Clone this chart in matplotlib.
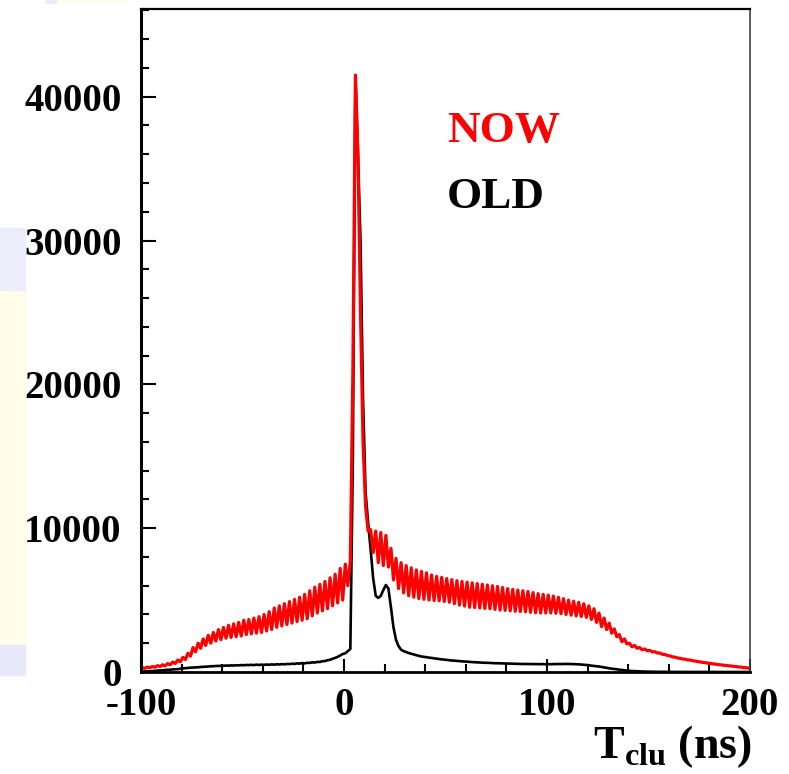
import matplotlib.pyplot as plt
import matplotlib.patches as mpatches
import numpy as np

plt.rcParams['font.family'] = 'Liberation Serif'
plt.rcParams['font.weight'] = 'bold'
plt.rcParams['axes.unicode_minus'] = False
plt.rcParams['mathtext.fontset'] = 'custom'
plt.rcParams['mathtext.rm'] = 'Liberation Serif:bold'
plt.rcParams['mathtext.bf'] = 'Liberation Serif:bold'

# histogram range and bin width (ns)
t_min, t_max, bin_w = -100, 200, 1.25

# NOW (red) bin contents, 8 bins = 10 ns per line
now_counts = [
    300, 260, 340, 300, 380, 330, 440, 380,          # -100
    500, 430, 580, 500, 690, 590, 830, 710,          # -90
    1020, 870, 1300, 1100, 1700, 1400, 2000, 1650,   # -80
    2300, 1850, 2550, 2000, 2750, 2150, 2950, 2250,  # -70
    3100, 2350, 3250, 2400, 3350, 2450, 3450, 2500,  # -60
    3600, 2600, 3650, 2650, 3750, 2700, 3850, 2750,  # -50
    4000, 2850, 4200, 2950, 4450, 3100, 4600, 3200,  # -40
    4750, 3300, 4900, 3400, 5050, 3500, 5200, 3600,  # -30
    5400, 3700, 5650, 3900, 5900, 4100, 6100, 4250,  # -20
    6300, 4400, 6550, 4600, 6800, 4800, 7200, 5000,  # -10
    7500, 6000, 7700, 21000, 41500, 36000, 25000, 16000,  # 0
    11500, 9800, 9900, 8300, 9800, 7600, 9700, 7400,  # 10
    9500, 7300, 8600, 6400, 7900, 5800, 7600, 5500,  # 20
    7400, 5300, 7250, 5200, 7100, 5100, 7000, 5050,  # 30
    6900, 5000, 6750, 4970, 6650, 4950, 6580, 4900,  # 40
    6500, 4850, 6420, 4750, 6350, 4650, 6300, 4580,  # 50
    6250, 4500, 6200, 4480, 6150, 4450, 6100, 4420,  # 60
    6050, 4400, 6000, 4350, 5950, 4300, 5880, 4280,  # 70
    5800, 4250, 5750, 4220, 5700, 4200, 5650, 4180,  # 80
    5600, 4150, 5520, 4120, 5450, 4100, 5400, 4100,  # 90
    5350, 4100, 5280, 4080, 5200, 4050, 5100, 4000,  # 100
    5000, 3950, 4920, 3900, 4850, 3850, 4750, 3800,  # 110
    4600, 3650, 4400, 3450, 4100, 3150, 3750, 2950,  # 120
    3400, 2700, 3000, 2450, 2600, 2100, 2300, 1950,  # 130
    2000, 1750, 1850, 1650, 1700, 1550, 1600, 1480,  # 140
    1500, 1400, 1410, 1320, 1320, 1230, 1220, 1140,  # 150
    1120, 1050, 1030, 970, 950, 900, 890, 840,       # 160
    830, 780, 760, 720, 700, 660, 650, 610,          # 170
    600, 560, 550, 510, 500, 470, 460, 430,          # 180
    420, 390, 380, 350, 340, 310, 300, 270,          # 190
]

# OLD (black) bin contents
old_counts = [
    30, 40, 50, 60, 70, 80, 100, 110,                # -100
    120, 140, 150, 160, 180, 190, 200, 230,          # -90
    250, 270, 280, 300, 310, 320, 330, 350,          # -80
    360, 370, 380, 400, 400, 420, 420, 430,          # -70
    430, 450, 440, 460, 450, 470, 460, 480,          # -60
    470, 490, 480, 500, 480, 510, 490, 510,          # -50
    500, 520, 500, 530, 510, 540, 520, 550,          # -40
    530, 560, 550, 580, 560, 600, 580, 620,          # -30
    600, 640, 630, 670, 660, 700, 700, 750,          # -20
    760, 820, 850, 920, 980, 1050, 1150, 1250,       # -10
    1300, 1450, 1600, 15000, 41500, 36000, 30000, 19000,  # 0
    12500, 10400, 8500, 6500, 5300, 5150, 5300, 5700,  # 10
    6050, 5800, 4500, 3100, 2230, 1800, 1550, 1450,  # 20
    1380, 1320, 1270, 1220, 1170, 1120, 1080, 1050,  # 30
    1030, 1000, 980, 950, 930, 900, 880, 860,        # 40
    840, 820, 800, 790, 770, 760, 740, 730,          # 50
    720, 700, 690, 680, 670, 660, 650, 640,          # 60
    640, 630, 620, 610, 610, 600, 600, 590,          # 70
    590, 580, 580, 570, 570, 560, 560, 550,          # 80
    560, 550, 550, 550, 550, 540, 550, 540,          # 90
    550, 540, 550, 550, 560, 550, 560, 560,          # 100
    560, 550, 550, 540, 530, 520, 500, 490,          # 110
    470, 440, 420, 400, 380, 350, 320, 290,          # 120
    260, 230, 210, 190, 160, 140, 120, 100,          # 130
    80, 70, 60, 50, 40, 35, 30, 25,                  # 140
    20, 20, 15, 15, 10, 10, 10, 10,                  # 150
    5, 5, 5, 5, 5, 5, 5, 5,                          # 160
    0, 0, 0, 0, 0, 0, 0, 0,                          # 170
    0, 0, 0, 0, 0, 0, 0, 0,                          # 180
    0, 0, 0, 0, 0, 0, 0, 0,                          # 190
]

centers = np.arange(t_min + bin_w / 2, t_max, bin_w)

fig = plt.figure(figsize=(7.89, 7.74), dpi=100)

# faint slide background pieces on the left edge
for (x0, y0, w, h, c) in [(0, 290, 25, 355, '#fffdea'), (0, 645, 25, 30, '#e8e8fb'),
                          (0, 228, 25, 62, '#ececfb'), (45, 0, 12, 3, '#ececfb'),
                          (57, 0, 70, 3, '#fffef0')]:
    fig.patches.append(mpatches.Rectangle((x0 / 789, 1 - (y0 + h) / 774), w / 789, h / 774,
                                          transform=fig.transFigure, color=c, zorder=0))

ax = fig.add_axes([141 / 789, 1 - 672 / 774, (750 - 141) / 789, (672 - 9) / 774])

ax.plot(centers, old_counts, color='black', linewidth=1.9)
ax.plot(centers, now_counts, color='#ff0000', linewidth=2.3)

ax.set_xlim(t_min, t_max)
ax.set_ylim(0, 46100)
ax.set_xticks([-100, 0, 100, 200])
ax.set_xticks(np.arange(-100, 201, 20), minor=True)
ax.set_yticks([0, 10000, 20000, 30000, 40000])
ax.set_yticks(np.arange(0, 46001, 2000), minor=True)

ax.tick_params(which='both', direction='in', top=False, right=False, width=1.5,
               labelsize=28)
ax.tick_params(axis='y', which='major', length=11, pad=14)
ax.tick_params(axis='y', which='minor', length=6)
ax.tick_params(axis='x', which='major', length=9.5, pad=10.5)
ax.tick_params(axis='x', which='minor', length=5.5)
for lab in ax.get_xticklabels() + ax.get_yticklabels():
    lab.set_fontweight('bold')

ax.spines['left'].set_linewidth(2.2)
ax.spines['bottom'].set_linewidth(2.0)
ax.spines['top'].set_linewidth(1.6)
ax.spines['right'].set_linewidth(1.2)
ax.spines['right'].set_color('#444444')

ax.text(447 / 789, 1 - 142 / 774, 'NOW', transform=fig.transFigure, color='#ff0000',
        fontsize=32.5, fontweight='bold', ha='left', va='baseline')
ax.text(447 / 789, 1 - 208 / 774, 'OLD', transform=fig.transFigure, color='black',
        fontsize=32.5, fontweight='bold', ha='left', va='baseline')

fig.text(752 / 789, 1 - 758 / 774, r'T$_{\mathrm{clu}}$ (ns)', fontsize=33,
         fontweight='bold', ha='right', va='baseline')

fig.savefig('out.png', dpi=100, facecolor='white')
